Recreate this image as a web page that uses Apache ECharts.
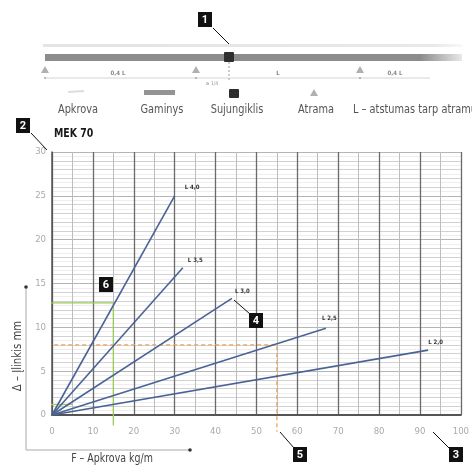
<!DOCTYPE html>
<html><head><meta charset="utf-8">
<script src="https://cdn.jsdelivr.net/npm/echarts@6/dist/echarts.min.js"></script>
<style>html,body{margin:0;padding:0;background:#fff}#c{width:472px;height:465px}</style>
</head><body><div id="c"></div>
<script>
const FONT = "'Liberation Sans Narrow','DejaVu Sans Condensed','Roboto',sans-serif";
const title = 'MEK 70';
const xAxisName = 'F – Apkrova kg/m';
const yAxisName = 'Δ – Įlinkis mm';
const lineNames = ['L 4,0', 'L 3,5', 'L 3,0', 'L 2,5', 'L 2,0'];
const lineEndX = [30, 32, 44, 67, 92];
const lineEndY = [25, 16.8, 13.3, 9.9, 7.4];
const orangeX = 55, orangeY = 8;
const greenX = 15, greenY = 12.8, greenLowY = 1.2, greenLowX = 5;
const legendNames = ['Apkrova', 'Gaminys', 'Sujungiklis', 'Atrama', 'L – atstumas tarp atramų'];
const spanLabels = ['0,4 L', 'L', '0,4 L'];

const labelOffsets = [[2,-8],[-3,-7],[-5,-7],[-12,-10],[-8,-8]];
const series = lineNames.map((n, i) => ({
  name: n, type: 'line', xAxisIndex: 0, yAxisIndex: 1,
  data: [[0, 0], [lineEndX[i], lineEndY[i]]],
  showSymbol: false, silent: true, z: 5,
  lineStyle: { color: '#4a6396', width: 1.6 },
  endLabel: { show: true, formatter: '{a}', fontSize: 6, fontWeight: 'bold', color: '#333', fontFamily: FONT, offset: labelOffsets[i] }
}));
function refLine(data, color, dashed) {
  return { type: 'line', xAxisIndex: 0, yAxisIndex: 1, data, showSymbol: false, silent: true, clip: false, z: 4,
    lineStyle: { color, width: 1.3, type: dashed ? [4, 3] : 'solid' } };
}
series.push(refLine([[-2.9, orangeY], [orangeX, orangeY], [orangeX, -1.9]], '#f0a35a', true));
series.push(refLine([[-1.2, greenY], [greenX, greenY], [greenX, -1.2]], '#9cc95a', false));
series.push(refLine([[-1.2, greenLowY], [greenLowX, greenLowY]], '#9cc95a', false));

const chart = echarts.init(document.getElementById('c'));
const g = [];
// top diagram
g.push({ type: 'rect', shape: { x: 43, y: 44, width: 419, height: 3 }, style: { fill: { type: 'linear', x: 0, y: 0, x2: 1, y2: 0, colorStops: [{ offset: 0, color: '#e4e4e4' }, { offset: 0.93, color: '#e8e8e8' }, { offset: 1, color: '#f8f8f8' }] } } });
g.push({ type: 'rect', shape: { x: 45, y: 54, width: 417, height: 7 }, style: { fill: { type: 'linear', x: 0, y: 0, x2: 1, y2: 0, colorStops: [{ offset: 0, color: '#8c8c8c' }, { offset: 0.9, color: '#8c8c8c' }, { offset: 1, color: '#e8e8e8' }] } } });
g.push({ type: 'line', shape: { x1: 229, y1: 62, x2: 229, y2: 82 }, style: { stroke: '#999', lineWidth: 1, lineDash: [2, 2] } });
g.push({ type: 'rect', shape: { x: 224, y: 52, width: 10, height: 10, r: 1 }, style: { fill: '#2e2e2e' } });
g.push({ type: 'line', shape: { x1: 45, y1: 78, x2: 430, y2: 78 }, style: { stroke: '#d4d4d4', lineWidth: 1 } });
[45, 196, 360].forEach(x => {
  g.push({ type: 'polygon', shape: { points: [[x, 66], [x - 4, 73], [x + 4, 73]] }, style: { fill: '#b0b0b0' } });
  g.push({ type: 'circle', shape: { cx: x, cy: 78, r: 1 }, style: { fill: '#aaa' } });
});
[[118, 73], [278, 73], [395, 73]].forEach((p, i) => g.push({ type: 'text', x: p[0], y: p[1], style: { text: spanLabels[i], fontSize: 6, fontWeight: 'bold', fill: '#888', align: 'center', verticalAlign: 'middle', fontFamily: FONT } }));
g.push({ type: 'text', x: 212, y: 84, style: { text: '≥ 1/4', fontSize: 5, fill: '#999', align: 'center', verticalAlign: 'middle', fontFamily: FONT } });
// legend row
g.push({ type: 'line', shape: { x1: 68, y1: 92, x2: 84, y2: 91 }, style: { stroke: '#dcdcdc', lineWidth: 2 } });
g.push({ type: 'rect', shape: { x: 144, y: 90, width: 31, height: 5 }, style: { fill: '#949494' } });
g.push({ type: 'rect', shape: { x: 229, y: 89, width: 10, height: 9, r: 1 }, style: { fill: '#2e2e2e' } });
g.push({ type: 'polygon', shape: { points: [[314, 89], [310, 96], [318, 96]] }, style: { fill: '#b0b0b0' } });
[[78, 'center'], [162, 'center'], [237, 'center'], [316, 'center'], [353, 'left']].forEach((p, i) => g.push({ type: 'text', x: p[0], y: 110, scaleX: 0.87, style: { text: legendNames[i], fontSize: 12.5, fill: '#555', align: p[1], verticalAlign: 'middle', fontFamily: FONT } }));
// title
g.push({ type: 'text', x: 54, y: 134, scaleX: 0.87, style: { text: title, fontSize: 12, fontWeight: 'bold', fill: '#1a1a1a', align: 'left', verticalAlign: 'middle', fontFamily: FONT } });
// axis arrows
g.push({ type: 'polyline', shape: { points: [[26, 287], [26, 450], [190, 450]] }, style: { stroke: '#aaa', lineWidth: 1, fill: null } });
g.push({ type: 'circle', shape: { cx: 26, cy: 287, r: 1.8 }, style: { fill: '#333' } });
g.push({ type: 'circle', shape: { cx: 190, cy: 450, r: 1.8 }, style: { fill: '#333' } });
g.push({ type: 'text', x: 18, y: 356, rotation: Math.PI / 2, scaleX: 0.9, style: { text: yAxisName, fontSize: 12.5, fill: '#444', align: 'center', verticalAlign: 'middle', fontFamily: FONT } });
g.push({ type: 'text', x: 112, y: 459, scaleX: 0.84, style: { text: xAxisName, fontSize: 12.5, fill: '#444', align: 'center', verticalAlign: 'middle', fontFamily: FONT } });
// callouts
const boxes = [['1', 198, 12, [[213, 28], [229, 44]]], ['2', 16, 118, [[31, 133], [47, 150]]], ['6', 99, 277, null], ['4', 249, 313, [[250, 314], [234, 300]]], ['5', 293, 447, [[294, 448], [280, 432]]], ['3', 449, 447, [[450, 449], [433, 432]]]];
boxes.forEach(b => {
  if (b[3]) g.push({ type: 'line', z: 20, shape: { x1: b[3][0][0], y1: b[3][0][1], x2: b[3][1][0], y2: b[3][1][1] }, style: { stroke: '#111', lineWidth: 1 } });
  g.push({ type: 'rect', z: 21, shape: { x: b[1], y: b[2], width: 14, height: 15 }, style: { fill: '#111' } });
  g.push({ type: 'text', z: 22, x: b[1] + 7, y: b[2] + 8, style: { text: b[0], fontSize: 11, fontWeight: 'bold', fill: '#fff', align: 'center', verticalAlign: 'middle', fontFamily: 'Roboto, sans-serif' } });
});

chart.setOption({
  animation: false,
  grid: { left: 52, top: 152, width: 410, height: 263 },
  xAxis: [{ type: 'value', min: 0, max: 100, interval: 10,
    axisLine: { show: true, onZero: false, lineStyle: { color: '#555', width: 2 } },
    axisTick: { show: false },
    axisLabel: { margin: 12, color: '#aaa', fontSize: 9.5, fontFamily: FONT },
    splitLine: { show: true, lineStyle: { color: '#6a6a6a', width: 1.3 } },
    minorTick: { show: false, splitNumber: 2 },
    minorSplitLine: { show: true, lineStyle: { color: '#bdbdbd', width: 1 } } }],
  yAxis: [
    { type: 'value', min: 0, max: 30, interval: 1, position: 'right',
      axisLine: { show: false }, axisTick: { show: false }, axisLabel: { show: false },
      splitLine: { show: true, lineStyle: { color: '#d2d2d2' } },
      minorTick: { show: false, splitNumber: 2 },
      minorSplitLine: { show: true, lineStyle: { color: '#eeeeee' } } },
    { type: 'value', min: 0, max: 30, interval: 5, position: 'left',
      axisLine: { show: true, lineStyle: { color: '#555', width: 1.5 } }, axisTick: { show: false },
      axisLabel: { margin: 6, color: '#aaa', fontSize: 9.5, fontFamily: FONT },
      splitLine: { show: true, lineStyle: { color: '#b5b5b5' } } }
  ],
  series,
  graphic: g
});
</script></body></html>
